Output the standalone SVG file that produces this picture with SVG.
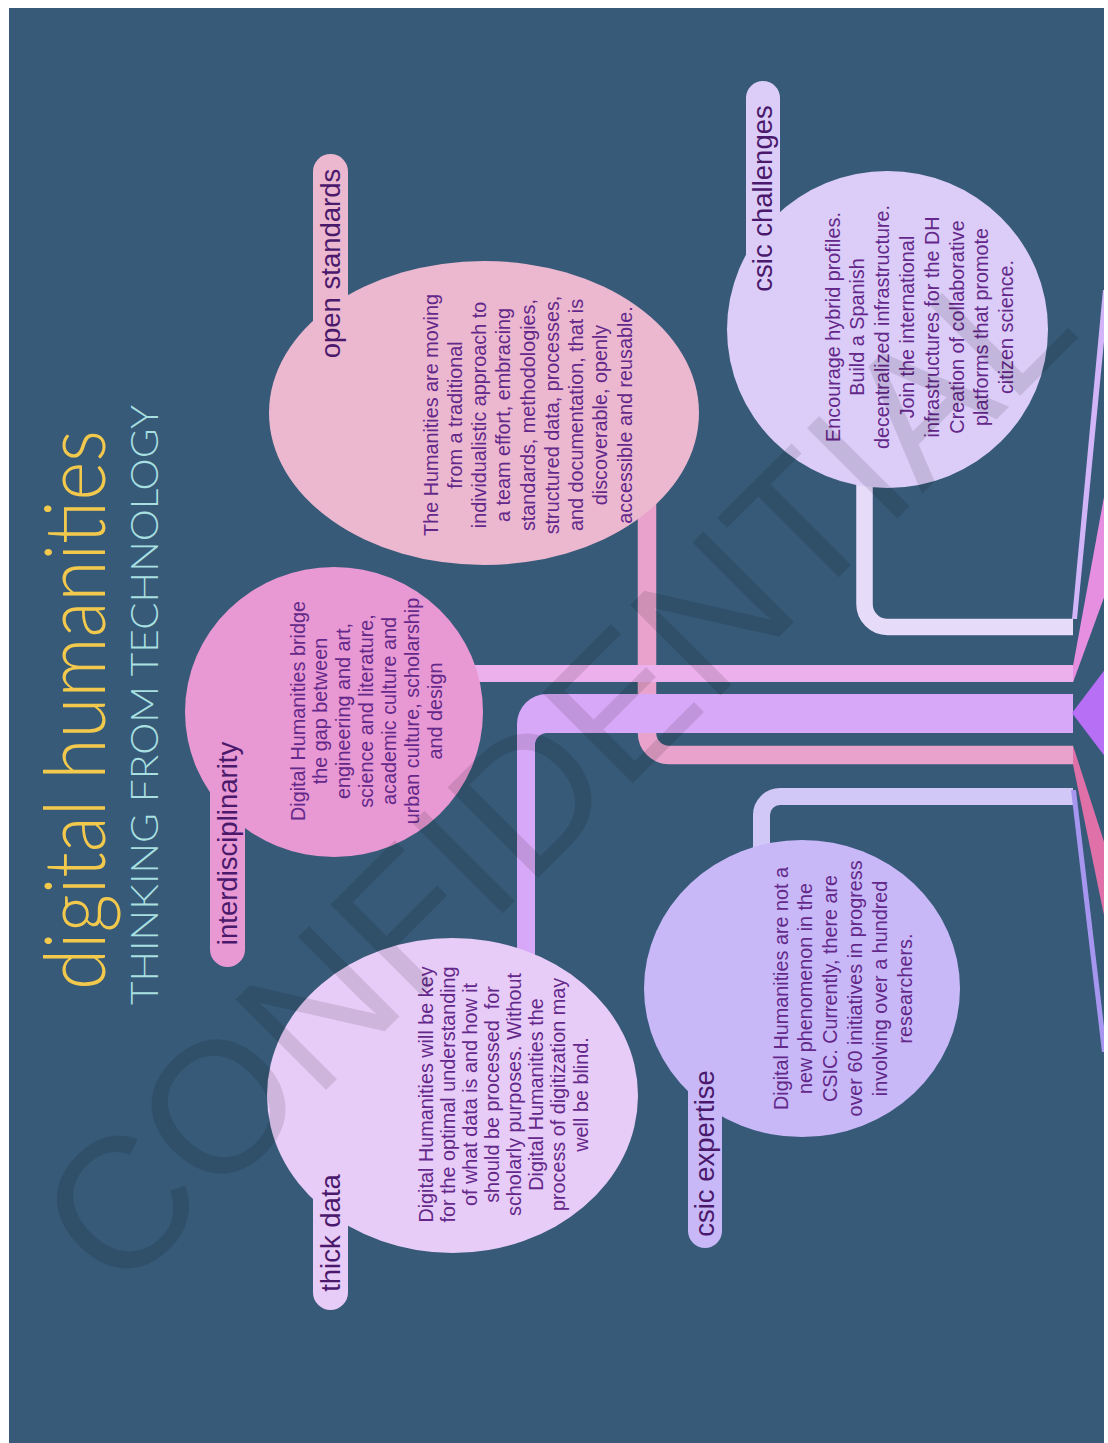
<svg xmlns="http://www.w3.org/2000/svg" width="1108" height="1443" viewBox="0 0 1108 1443">
<defs>
<clipPath id="page"><rect x="9" y="8" width="1095" height="1435"/></clipPath>
<style>
.lbl{font-family:"Liberation Sans",Arial,sans-serif;font-size:27.5px;fill:#4a196c;text-anchor:middle}
.body{font-family:"Liberation Sans",Arial,sans-serif;font-size:19.8px;fill:#64288a;text-anchor:middle}
.title{font-family:Lato,"Open Sans",sans-serif;font-weight:300;font-size:84px;fill:#f2c94c}
.sub{font-family:Lato,"Open Sans",sans-serif;font-weight:300;font-size:38px;fill:#a8dfe0}
.bar{fill:none}
.wm{font-family:"Liberation Sans",Arial,sans-serif;font-size:186px;fill:#000;fill-opacity:0.11}
</style>
</defs>
<rect width="1108" height="1443" fill="#ffffff"/>
<rect x="9" y="8" width="1095" height="1435" fill="#365a78"/>

<g id="title" transform="rotate(-90)">
<text class="title" x="-990" y="105" textLength="560" lengthAdjust="spacingAndGlyphs">digital humanities</text>
<text class="sub" x="-1005" y="158" textLength="600" lengthAdjust="spacingAndGlyphs">THINKING FROM TECHNOLOGY</text>
</g>

<g id="connectors" clip-path="url(#page)">
<path class="bar" d="M647,500 V733 A22,22 0 0 0 669,755 H1073" stroke="#e8a2cc" stroke-width="18.5"/>
<path class="bar" d="M470,673.5 H1073" stroke="#ecb0ec" stroke-width="17"/>
<path d="M1073,694 H547 A30,30 0 0 0 517,724 V960 H535 V745 A12,12 0 0 1 547,733 H1073 Z" fill="#d8a8f8"/>
<path class="bar" d="M1073,796.5 H780 A18.5,18.5 0 0 0 761.5,815 V870" stroke="#d2c8f8" stroke-width="17"/>
<path class="bar" d="M864.5,470 V604 A23,23 0 0 0 887.5,627 H1073" stroke="#e6dcfa" stroke-width="16.5"/>
<polygon points="1072,619 1077,619 1109,290 1103,290" fill="#d2b4f8"/>
<polygon points="1073,666 1073,682.5 1106,592 1106,486" fill="#e68ee0"/>
<polygon points="1072,713 1106,668 1106,758" fill="#b76ff6"/>
<polygon points="1073,745.5 1073,764.5 1106,925 1106,848" fill="#e070a8"/>
<polygon points="1071,790 1076,790 1107,1052 1102,1052" fill="#a696f0"/>
</g>

<g id="open-standards">
<rect x="313" y="154" width="35" height="226" rx="17.5" fill="#ecb8d0"/>
<ellipse cx="484" cy="413" rx="215" ry="152" fill="#ecb8d0"/>
<g transform="rotate(-90)">
<text class="lbl" x="-263.5" y="340">open standards</text>
<g class="body">
<text x="-415" y="437.5">The Humanities are moving</text>
<text x="-415" y="461.75">from a traditional</text>
<text x="-415" y="486">individualistic approach to</text>
<text x="-415" y="510.25">a team effort, embracing</text>
<text x="-415" y="534.5">standards, methodologies,</text>
<text x="-415" y="558.75">structured data, processes,</text>
<text x="-415" y="583">and documentation, that is</text>
<text x="-415" y="607.25">discoverable, openly</text>
<text x="-415" y="631.5">accessible and reusable.</text>
</g>
</g>
</g>

<g id="csic-challenges">
<rect x="746" y="81" width="34" height="219" rx="17" fill="#dccdf8"/>
<ellipse cx="887.5" cy="329.5" rx="160.5" ry="158.5" fill="#dccdf8"/>
<g transform="rotate(-90)">
<text class="lbl" x="-198.5" y="772">csic challenges</text>
<g class="body">
<text x="-327" y="839.5">Encourage hybrid profiles.</text>
<text x="-327" y="864.3">Build a Spanish</text>
<text x="-327" y="889.1">decentralized infrastructure.</text>
<text x="-327" y="913.9">Join the international</text>
<text x="-327" y="938.7">infrastructures for the DH</text>
<text x="-327" y="963.5">Creation of collaborative</text>
<text x="-327" y="988.3">platforms that promote</text>
<text x="-327" y="1013.1">citizen science.</text>
</g>
</g>
</g>

<g id="interdisciplinarity">
<rect x="210" y="760" width="35" height="207" rx="17.5" fill="#e898d2"/>
<ellipse cx="334" cy="712" rx="149" ry="145" fill="#e898d2"/>
<g transform="rotate(-90)">
<text class="lbl" x="-843.5" y="236.5">interdisciplinarity</text>
<g class="body">
<text x="-711" y="304.5">Digital Humanities bridge</text>
<text x="-711" y="327.3">the gap between</text>
<text x="-711" y="350.2">engineering and art,</text>
<text x="-711" y="373">science and literature,</text>
<text x="-711" y="395.8">academic culture and</text>
<text x="-711" y="418.7">urban culture, scholarship</text>
<text x="-711" y="441.5">and design</text>
</g>
</g>
</g>

<g id="thick-data">
<rect x="313" y="1160" width="35" height="150" rx="17.5" fill="#e8ccf8"/>
<ellipse cx="452.5" cy="1095.5" rx="185.5" ry="157.5" fill="#e8ccf8"/>
<g transform="rotate(-90)">
<text class="lbl" x="-1233" y="340">thick data</text>
<g class="body">
<text x="-1094.5" y="432.5">Digital Humanities will be key</text>
<text x="-1094.5" y="454.6">for the optimal understanding</text>
<text x="-1094.5" y="476.8">of what data is and how it</text>
<text x="-1094.5" y="498.9" style="white-space:pre">should be processed  for</text>
<text x="-1094.5" y="521.1">scholarly purposes. Without</text>
<text x="-1094.5" y="543.2">Digital Humanities the</text>
<text x="-1094.5" y="565.3">process of digitization may</text>
<text x="-1094.5" y="587.5">well be blind.</text>
</g>
</g>
</g>

<g id="csic-expertise">
<rect x="688" y="1050" width="34" height="198" rx="17" fill="#c8b8f8"/>
<ellipse cx="802" cy="988.5" rx="158" ry="148.5" fill="#c8b8f8"/>
<g transform="rotate(-90)">
<text class="lbl" x="-1153.5" y="714">csic expertise</text>
<g class="body">
<text x="-988.5" y="787.5">Digital Humanities are not a</text>
<text x="-988.5" y="812.3">new phenomenon in the</text>
<text x="-988.5" y="837.1">CSIC. Currently, there are</text>
<text x="-988.5" y="861.9">over 60 initiatives in progress</text>
<text x="-988.5" y="886.7">involving over a hundred</text>
<text x="-988.5" y="911.5">researchers.</text>
</g>
</g>
</g>

<g id="watermark">
<text class="wm" transform="translate(118,1298) rotate(-45)">CONFIDENTIAL</text>
</g>
</svg>
